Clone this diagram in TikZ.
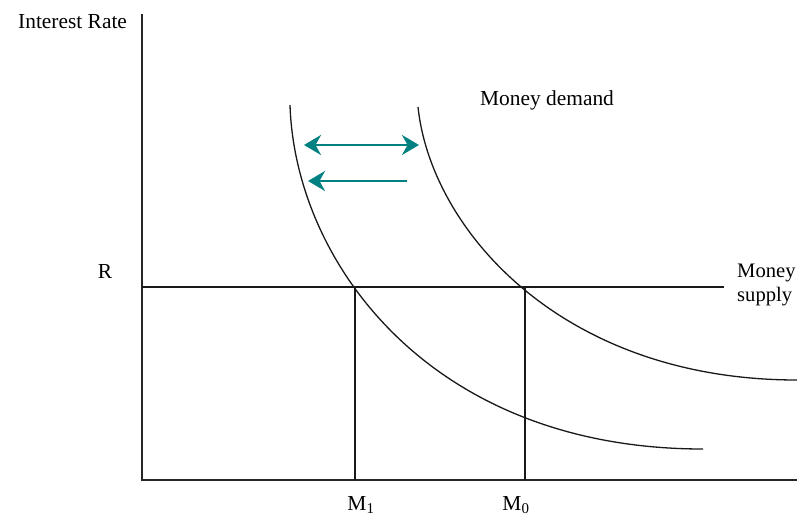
\documentclass[tikz,border=0pt]{standalone}
\usepackage{fontspec}
\setmainfont{Liberation Serif}
\usetikzlibrary{arrows.meta}
\definecolor{teal1}{RGB}{0,128,128}
\tikzset{
  axis/.style={line width=1.6pt, black!85},
  curve/.style={line width=1.3pt, black!90},
  guide/.style={line width=1.3pt, black!90},
  tealtip/.tip={Stealth[length=17pt,width=20pt,inset=5.5pt]},
  shiftarrow/.style={line width=2pt, teal1, arrows={-tealtip}},
  dshiftarrow/.style={line width=2pt, teal1, arrows={tealtip-tealtip}},
  lbl/.style={font=\fontsize{21.4}{24}\selectfont, inner sep=0pt},
  sidelbl/.style={font=\fontsize{20.6}{24}\selectfont, inner sep=0pt}
}
\begin{document}
\begin{tikzpicture}[x=1pt,y=-1pt]
\useasboundingbox (0,0) rectangle (797,519);
% axes
\coordinate (O) at (142,480);
\coordinate (ytop) at (142,14);
\coordinate (xend) at (797,480);
\draw[axis] (ytop) -- (O) -- (xend);
% money supply
\coordinate (msl) at (142,287);
\coordinate (msr) at (724,287);
\draw[guide] (msl) -- (msr);
% verticals
\coordinate (e1) at (355,287);
\coordinate (b1) at (355,480);
\coordinate (e0) at (525,287);
\coordinate (b0) at (525,480);
\draw[guide] (e1) -- (b1);
\draw[guide] (e0) -- (b0);
% demand curves
\coordinate (c1s) at (290,105);
\coordinate (c1e) at (703,449);
\draw[curve] (c1s) .. controls (295,262) and (430,449) .. (c1e);
\coordinate (c2s) at (418,107);
\coordinate (c2e) at (797,380);
\draw[curve] (c2s) .. controls (431,230) and (562,380) .. (c2e);
% arrows
\coordinate (a1l) at (304,145);
\coordinate (a1r) at (419,145);
\draw[dshiftarrow] (a1l) -- (a1r);
\coordinate (a2r) at (407,181);
\coordinate (a2l) at (308,181);
\draw[shiftarrow] (a2r) -- (a2l);
% labels
\node[lbl, anchor=west] (ir) at (18,22) {Interest Rate};
\node[lbl, anchor=west] (md) at (480,100) {Money demand};
\node[lbl] (r) at (105,271) {R};
\node[sidelbl, anchor=west, align=left] (ms) at (737,285) {Money\\supply};
\node[lbl] (m1) at (361,505) {M\textsubscript{1}};
\node[lbl] (m0) at (516,505) {M\textsubscript{0}};
\end{tikzpicture}
\end{document}
